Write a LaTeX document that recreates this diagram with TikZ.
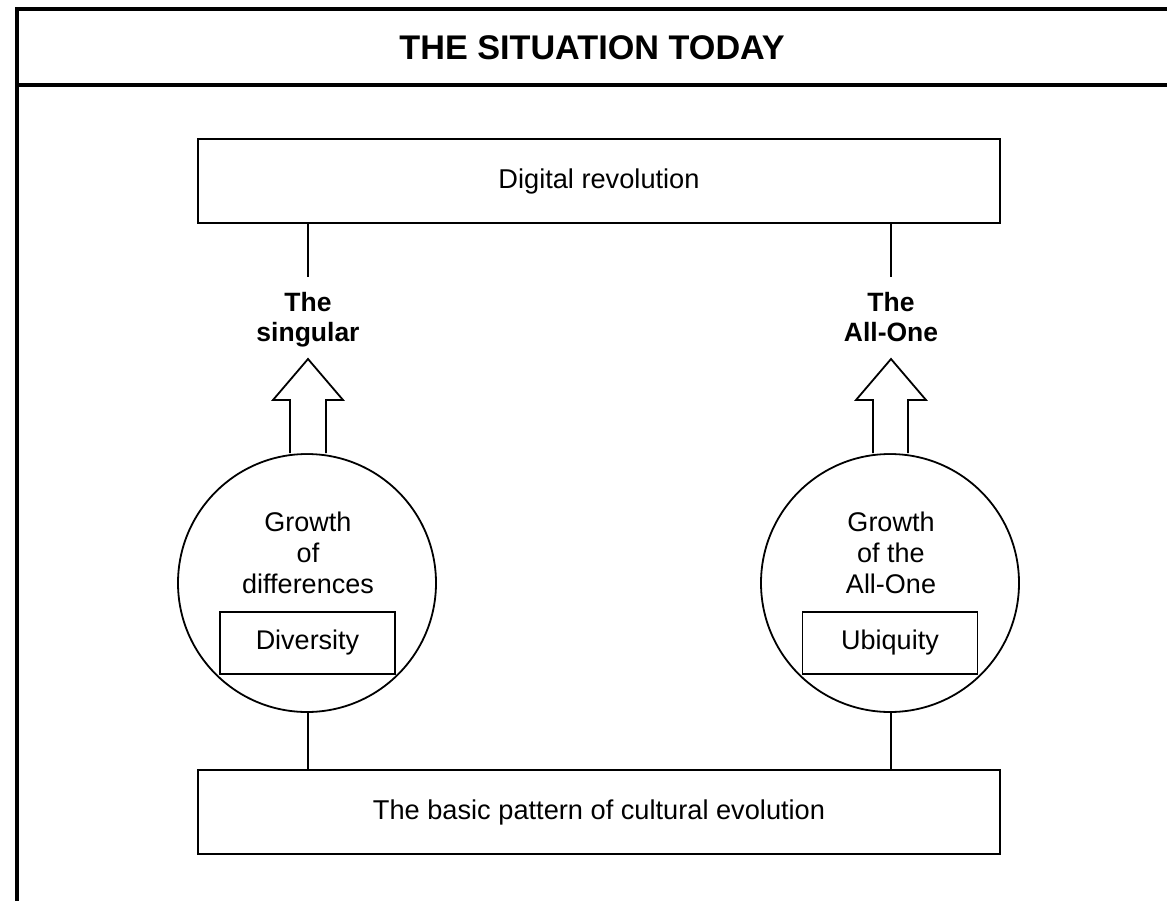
\documentclass[tikz,border=0pt]{standalone}
\usepackage{fontspec}
\setmainfont{Liberation Sans}
\usetikzlibrary{calc}
\begin{document}
\begin{tikzpicture}[x=1pt,y=-1pt,
  frame/.style={line width=4pt},
  boxline/.style={line width=2pt},
  txt/.style={font=\fontsize{27}{31}\selectfont, align=center, inner sep=0pt},
  btxt/.style={font=\fontsize{26.5}{30}\selectfont\bfseries, align=center, inner sep=0pt, anchor=north},
  bigbox/.style={draw, line width=2pt, minimum width=802pt, minimum height=84pt, inner sep=0pt, font=\fontsize{27.2}{31}\selectfont},
  smallbox/.style={draw, line width=1.8pt, minimum width=175pt, minimum height=62pt, inner sep=0pt, font=\fontsize{27}{31}\selectfont},
  ring/.style={draw, circle, line width=1.8pt, minimum size=258pt, inner sep=0pt},
  bigarrow/.style={draw, line width=1.8pt, fill=white, line join=miter}
]
\useasboundingbox (0,0) rectangle (1167,901);
% frame
\draw[frame] (1167,9) -- (17,9) -- (17,901);
\draw[frame] (17,85) -- (1167,85);
\node[font=\fontsize{34.2}{36}\selectfont\bfseries, inner sep=0pt] (title) at (592,48) {THE SITUATION TODAY};

% boxes
\node[bigbox] (digital) at (599,181) {Digital revolution};
\node[bigbox] (basic) at (599,812) {The basic pattern of cultural evolution};

% circles
\node[ring] (lc) at (307,583) {};
\node[ring] (rc) at (890,583) {};

\node[txt] (lgrowth) at (308,553) {Growth\\of\\differences};
\node[txt] (rgrowth) at (891,553) {Growth\\of the\\All-One};
\node[smallbox] (diversity) at (307.5,643) {Diversity};
\node[smallbox] (ubiquity) at (890,643) {Ubiquity};

% labels
\node[btxt] (singular) at (308,292.5) {The\\singular};
\node[btxt] (allone) at (891,292.5) {The\\All-One};

% connectors from top box
\coordinate (lt) at (308,277);
\coordinate (rt) at (891,277);
\draw[boxline] (digital.south -| lt) -- (lt);
\draw[boxline] (digital.south -| rt) -- (rt);

% connectors to bottom box
\draw[boxline] (lc.south -| 308,0) -- (basic.north -| 308,0);
\draw[boxline] (rc.south -| 891,0) -- (basic.north -| 891,0);

% block arrows
\draw[bigarrow] (290,453) -- (290,400) -- (273,400) -- (308,359) -- (343,400) -- (326,400) -- (326,453);
\draw[bigarrow] (873,453) -- (873,400) -- (856,400) -- (891,359) -- (926,400) -- (908,400) -- (908,453);
\end{tikzpicture}
\end{document}
